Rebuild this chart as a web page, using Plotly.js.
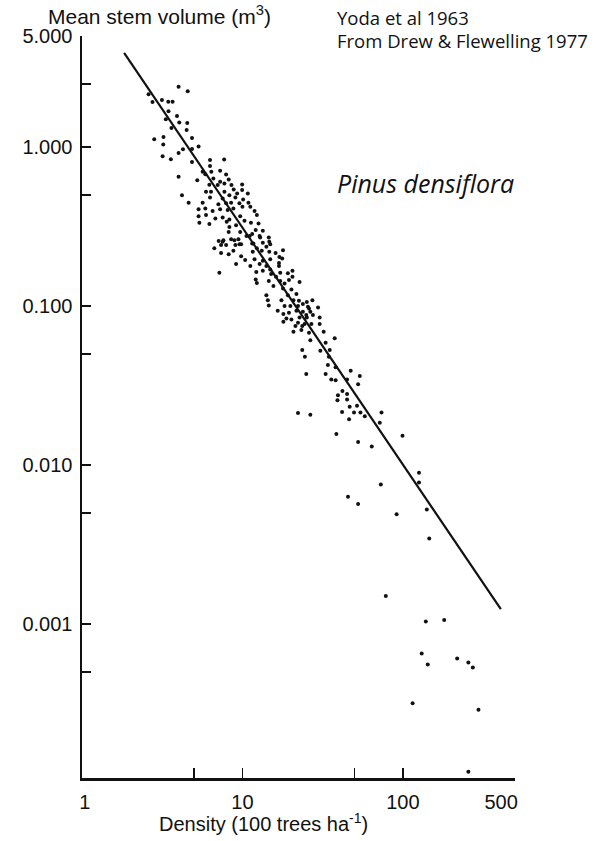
<!DOCTYPE html>
<html>
<head>
<meta charset="utf-8">
<script src="https://cdn.plot.ly/plotly-3.0.1.min.js"></script>
<style>
  html, body { margin: 0; padding: 0; background: #ffffff; }
  #chart { width: 597px; height: 841px; }
</style>
</head>
<body>
<div id="chart"></div>
<script>
// ---- Data ----
// Density (100 trees ha-1)
const density = [
  2.60, 2.75, 4.00, 4.56, 3.15, 3.45, 3.67, 3.46, 3.33, 3.91, 4.04, 4.53, 3.61, 4.49, 2.82, 3.22, 4.85, 3.21, 5.33, 4.26,
  4.00, 4.85, 3.18, 3.58, 4.85, 6.28, 7.69, 4.00, 4.20, 4.62,
  6.28, 5.65, 5.87, 7.26, 6.40, 7.91, 5.23, 6.59, 8.21, 7.26, 6.22, 7.01, 7.72, 8.54, 8.82, 9.96, 5.93, 6.37, 7.72, 8.29,
  9.27, 9.96, 6.28, 7.53, 9.04, 10.1, 10.8, 5.65, 7.08, 7.91, 8.50, 9.58, 10.9, 5.33, 5.87, 6.52, 7.26, 8.09, 8.78, 10.0,
  11.2, 11.9, 5.33, 5.93, 6.78, 7.53, 8.29, 9.68, 10.3, 12.3, 5.39, 6.22, 7.98, 8.29, 9.13, 11.3, 12.6, 8.21, 9.68, 12.1,
  13.4, 11.1, 12.9, 14.6, 7.11, 7.61, 8.50, 9.44, 6.68, 7.36, 9.58, 11.5, 12.3, 14.1, 14.7,
  11.5, 10.6, 12.8, 7.53, 8.91, 7.91, 9.04, 9.81, 11.7, 13.4, 14.9, 7.36, 8.21, 8.78, 11.6, 13.2, 14.7, 16.1, 17.9, 9.81,
  10.4, 11.9, 13.4, 14.9, 17.0, 17.7, 9.13, 11.2, 12.8, 14.1, 14.9, 16.9, 16.9, 7.18, 12.2, 13.4, 15.1, 17.2, 19.2, 20.5,
  12.1, 12.3, 14.6, 16.2, 17.2, 18.3, 19.5, 20.5, 22.7, 15.6, 17.9, 14.1, 19.2, 20.2, 21.7, 14.4, 14.6, 17.5, 20.8, 22.5,
  25.2, 27.3, 18.3, 19.9, 22.2, 25.6, 29.6, 16.6, 19.5, 21.7, 23.8, 26.5, 18.8, 20.2, 22.7, 25.2, 27.5, 30.3, 18.0, 21.4,
  23.6, 26.9, 30.3,
  18.0, 23.8, 26.0, 25.0, 22.2, 24.4, 23.3, 20.8, 26.0, 32.1, 26.5, 33.0, 37.6, 23.6, 30.6, 35.0, 24.5, 34.6, 34.1, 38.1,
  25.0, 33.0, 35.8, 38.1, 44.9, 47.3, 53.9, 52.6, 39.4, 42.0, 44.9, 44.9,
  39.1, 46.6, 51.8, 41.8, 49.6, 54.4, 57.9, 73.6, 46.2, 71.8, 38.5, 52.6, 64.0, 99.5, 126, 22.2, 26.5, 126, 72.9, 45.5,
  52.6, 91.4, 141, 146, 78.3, 139, 181, 131, 143, 218, 256, 273, 115, 296, 256
];
// Mean stem volume (m3)
const volume = [
  2.15, 1.92, 2.40, 2.25, 1.98, 1.93, 1.93, 1.68, 1.50, 1.57, 1.43, 1.42, 1.32, 1.28, 1.12, 1.16, 1.14, 1.04, 1.01, 0.97,
  0.92, 0.975, 0.877, 0.84, 0.805, 0.83, 0.837, 0.65, 0.499, 0.447,
  0.762, 0.70, 0.676, 0.71, 0.70, 0.673, 0.62, 0.636, 0.626, 0.605, 0.58, 0.577, 0.591, 0.577, 0.542, 0.583, 0.524, 0.524, 0.524, 0.499,
  0.511, 0.537, 0.483, 0.476, 0.483, 0.469, 0.511, 0.447, 0.438, 0.443, 0.447, 0.443, 0.447, 0.406, 0.411, 0.396, 0.406, 0.402, 0.411, 0.421,
  0.421, 0.396, 0.368, 0.374, 0.356, 0.361, 0.351, 0.368, 0.344, 0.374, 0.334, 0.328, 0.339, 0.315, 0.323, 0.334, 0.331, 0.293, 0.293, 0.301,
  0.298, 0.276, 0.270, 0.270, 0.257, 0.260, 0.263, 0.263, 0.231, 0.242, 0.245, 0.248, 0.231, 0.236, 0.254,
  0.284, 0.276, 0.276, 0.254, 0.260, 0.242, 0.242, 0.245, 0.248, 0.250, 0.245, 0.216, 0.212, 0.223, 0.220, 0.223, 0.220, 0.216, 0.225, 0.206,
  0.195, 0.197, 0.193, 0.197, 0.204, 0.1995, 0.184, 0.179, 0.184, 0.179, 0.170, 0.187, 0.179, 0.162, 0.164, 0.167, 0.159, 0.162, 0.161, 0.167,
  0.147, 0.140, 0.144, 0.153, 0.144, 0.139, 0.146, 0.153, 0.142, 0.134, 0.129, 0.117, 0.117, 0.127, 0.119, 0.109, 0.101, 0.109, 0.109, 0.108,
  0.106, 0.109, 0.100, 0.100, 0.100, 0.099, 0.098, 0.0934, 0.0908, 0.0934, 0.0921, 0.0921, 0.0837, 0.0825, 0.0849, 0.0849, 0.0878, 0.0849, 0.0796, 0.0749,
  0.0749, 0.0771, 0.0771,
  0.0891, 0.103, 0.0967, 0.0878, 0.0785, 0.0771, 0.0707, 0.0689, 0.0679, 0.0689, 0.0611, 0.0588, 0.0627, 0.0529, 0.0524, 0.0529, 0.048, 0.048, 0.0426, 0.0412,
  0.0374, 0.0374, 0.0346, 0.0342, 0.0346, 0.0392, 0.0363, 0.0323, 0.0275, 0.0293, 0.028, 0.0259,
  0.0256, 0.0233, 0.0236, 0.0216, 0.0214, 0.0214, 0.0203, 0.0214, 0.0194, 0.0185, 0.0157, 0.014, 0.0131, 0.0153, 0.00895, 0.0213, 0.0207, 0.00778, 0.00756, 0.00632,
  0.00569, 0.0049, 0.00526, 0.00346, 0.0015, 0.00104, 0.00106, 0.000654, 0.000558, 0.000608, 0.000574, 0.000534, 0.000318, 0.000289, 0.000118
];
// Fitted self-thinning line (end points)
const lineDensity = [1.83, 408];
const lineVolume = [3.92, 0.00124];

// Axis ticks
const xTickVals = [1, 5, 10, 50, 100, 500];
const xTickText = ['\u00a01', '', '10', '', '100', '500\u00a0\u00a0\u00a0\u00a0\u00a0'];
const yTickVals = [5, 2.5, 1, 0.5, 0.1, 0.05, 0.01, 0.005, 0.001, 0.0005];
const yTickText = ['5.000', '', '1.000', '', '0.100', '', '0.010', '', '0.001', ''];

const ink = '#111111';
const axisFont = 'Liberation Sans, Arial, Helvetica, sans-serif';
const noteFont = 'Open Sans, Noto Sans, sans-serif';

const traces = [
  {
    type: 'scatter', mode: 'markers',
    x: density, y: volume,
    marker: { size: 4, color: ink, line: { width: 0 } },
    hoverinfo: 'x+y', showlegend: false
  },
  {
    type: 'scatter', mode: 'lines',
    x: lineDensity, y: lineVolume,
    line: { color: ink, width: 2.2 },
    hoverinfo: 'skip', showlegend: false
  }
];

const layout = {
  width: 597, height: 841,
  paper_bgcolor: '#ffffff', plot_bgcolor: '#ffffff',
  margin: { l: 82, r: 82, t: 36, b: 63, pad: 0 },
  showlegend: false,
  font: { family: axisFont, color: ink, size: 20 },
  xaxis: {
    type: 'log',
    range: [0, Math.log10(500)],
    tickmode: 'array', tickvals: xTickVals, ticktext: xTickText,
    ticks: 'inside', ticklen: 10, tickwidth: 1.5, tickcolor: ink,
    showline: true, linecolor: ink, linewidth: 2.5,
    showgrid: false, zeroline: false,
    tickfont: { family: axisFont, size: 20, color: ink },
    ticklabelstandoff: 4,
    fixedrange: true
  },
  yaxis: {
    type: 'log',
    range: [-3.968, Math.log10(5)],
    tickmode: 'array', tickvals: yTickVals, ticktext: yTickText,
    ticks: 'inside', ticklen: 9, tickwidth: 1.5, tickcolor: ink,
    showline: true, linecolor: ink, linewidth: 2.5,
    showgrid: false, zeroline: false,
    tickfont: { family: axisFont, size: 20, color: ink },
    ticklabelstandoff: 3,
    fixedrange: true
  },
  annotations: [
    {
      text: 'Mean stem volume (m<sup>3</sup>)', xref: 'paper', yref: 'paper',
      x: (273 - 82) / 433, y: 1 + (36 - 15) / 742, xanchor: 'right', yanchor: 'middle',
      showarrow: false, font: { family: axisFont, size: 21, color: ink }
    },
    {
      text: 'Density (100 trees ha<sup>-1</sup>)', xref: 'paper', yref: 'paper',
      x: (263 - 82) / 433, y: -(822 - 778) / 742, xanchor: 'center', yanchor: 'middle',
      showarrow: false, font: { family: axisFont, size: 20, color: ink }
    },
    {
      text: 'Yoda et al 1963', xref: 'paper', yref: 'paper',
      x: (335 - 82) / 433, y: 1 + (36 - 18) / 742, xanchor: 'left', yanchor: 'middle',
      showarrow: false, font: { family: noteFont, size: 18.5, color: '#111111' }
    },
    {
      text: 'From Drew &amp; Flewelling 1977', xref: 'paper', yref: 'paper',
      x: (335 - 82) / 433, y: 1 + (36 - 41) / 742, xanchor: 'left', yanchor: 'middle',
      showarrow: false, font: { family: noteFont, size: 18.5, color: '#111111' }
    },
    {
      text: '<i>Pinus densiflora</i>', xref: 'paper', yref: 'paper',
      x: (335 - 82) / 433, y: 1 - (183 - 36) / 742, xanchor: 'left', yanchor: 'middle',
      showarrow: false, font: { family: noteFont, size: 25, color: '#111111' }
    }
  ]
};

Plotly.newPlot('chart', traces, layout, { staticPlot: true, displayModeBar: false });
</script>
</body>
</html>
